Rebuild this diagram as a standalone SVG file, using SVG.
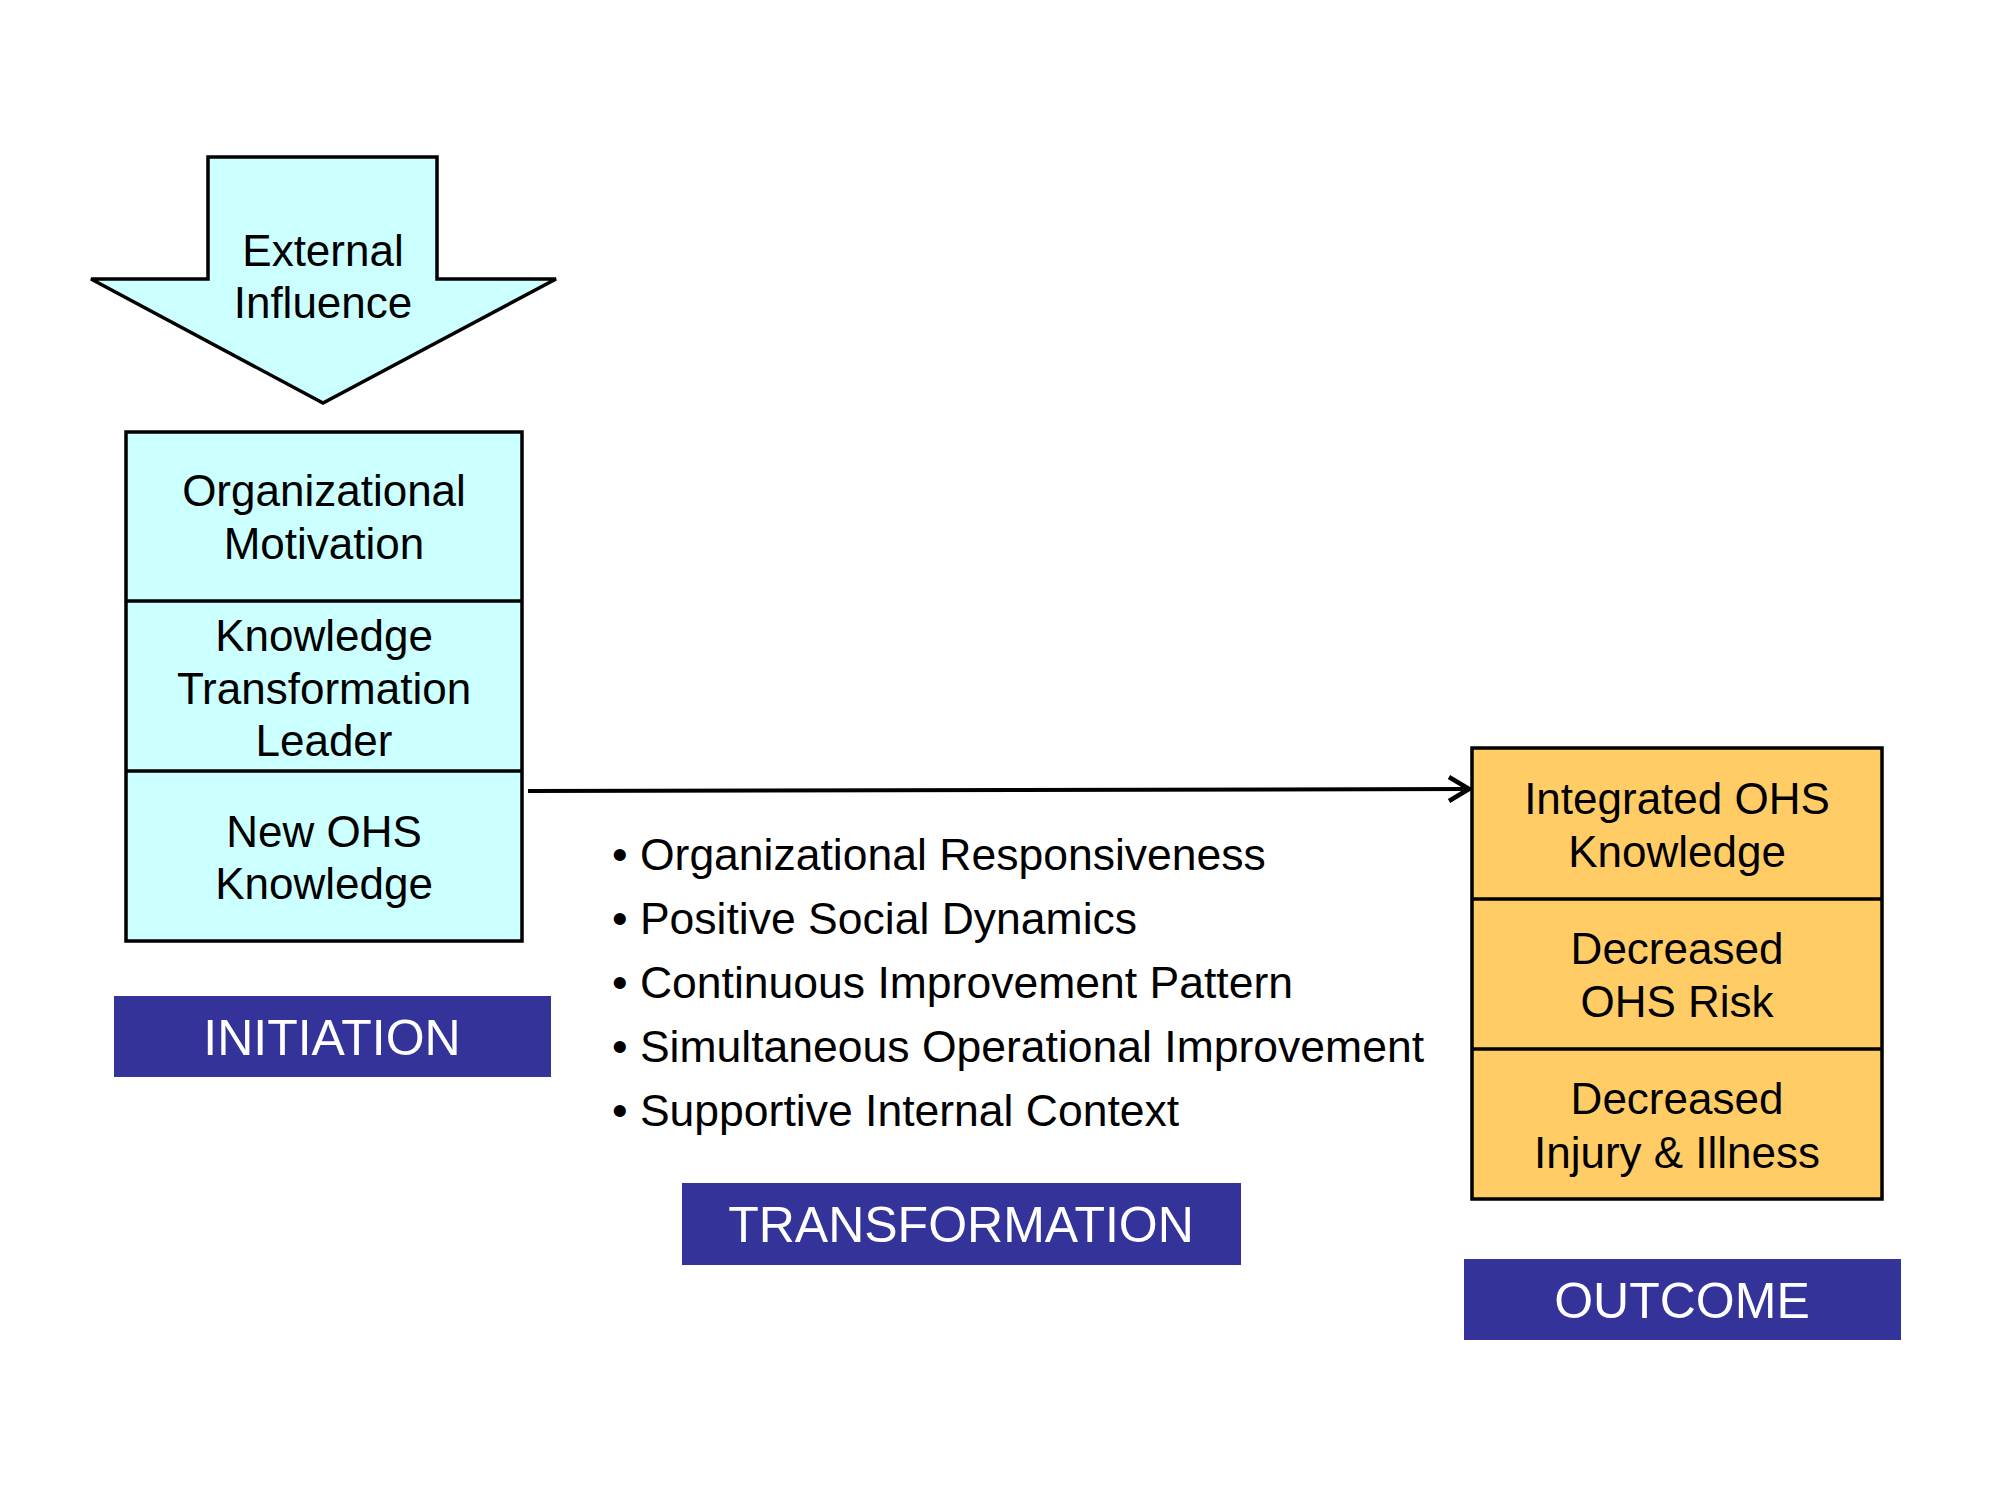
<svg xmlns="http://www.w3.org/2000/svg" width="2000" height="1500" viewBox="0 0 2000 1500">
  <defs>
    <style>
      text { font-family: "Liberation Sans", Arial, sans-serif; }
      .lbl { font-size: 44px; fill: #000; text-anchor: middle; }
      .bul { font-size: 44.5px; fill: #000; }
      .stage { font-size: 50px; fill: #fff; text-anchor: middle; }
      .cyan { fill: #CCFFFF; stroke: #000; stroke-width: 3.5; }
      .orange { fill: #FFCC66; stroke: #000; stroke-width: 3.5; }
      .div { stroke: #000; stroke-width: 3.5; fill: none; }
      .band { fill: #333399; }
    </style>
    <marker id="open" viewBox="0 0 24 28" refX="22" refY="14" markerWidth="24" markerHeight="28" markerUnits="userSpaceOnUse" orient="auto">
      <path d="M2,2 L22,14 L2,26" fill="none" stroke="#000" stroke-width="4.5"/>
    </marker>
  </defs>
  <rect width="2000" height="1500" fill="#fff"/>

  <g id="external-influence">
    <path class="cyan" d="M208,157 L437,157 L437,279 L556,279 L323,403 L91,279 L208,279 Z" stroke-linejoin="miter"/>
    <text class="lbl" x="323" y="266">External</text>
    <text class="lbl" x="323" y="318">Influence</text>
  </g>

  <g id="initiation-stack">
    <rect class="cyan" x="126" y="432" width="396" height="509"/>
    <line class="div" x1="126" y1="601" x2="522" y2="601"/>
    <line class="div" x1="126" y1="771" x2="522" y2="771"/>
    <text class="lbl" x="324" y="506">Organizational</text>
    <text class="lbl" x="324" y="559">Motivation</text>
    <text class="lbl" x="324" y="651">Knowledge</text>
    <text class="lbl" x="324" y="704">Transformation</text>
    <text class="lbl" x="324" y="756">Leader</text>
    <text class="lbl" x="324" y="847">New OHS</text>
    <text class="lbl" x="324" y="899">Knowledge</text>
  </g>

  <g id="initiation-label">
    <rect class="band" x="114" y="996" width="437" height="81"/>
    <text class="stage" x="332" y="1055">INITIATION</text>
  </g>

  <g id="transformation-list">
    <text class="bul" x="612" y="870">• Organizational Responsiveness</text>
    <text class="bul" x="612" y="934">• Positive Social Dynamics</text>
    <text class="bul" x="612" y="998">• Continuous Improvement Pattern</text>
    <text class="bul" x="612" y="1062">• Simultaneous Operational Improvement</text>
    <text class="bul" x="612" y="1126">• Supportive Internal Context</text>
  </g>

  <g id="transformation-label">
    <rect class="band" x="682" y="1183" width="559" height="82"/>
    <text class="stage" x="961" y="1242">TRANSFORMATION</text>
  </g>

  <g id="outcome-stack">
    <rect class="orange" x="1472" y="748" width="410" height="451"/>
    <line class="div" x1="1472" y1="899" x2="1882" y2="899"/>
    <line class="div" x1="1472" y1="1049" x2="1882" y2="1049"/>
    <text class="lbl" x="1677" y="814">Integrated OHS</text>
    <text class="lbl" x="1677" y="867">Knowledge</text>
    <text class="lbl" x="1677" y="964">Decreased</text>
    <text class="lbl" x="1677" y="1017">OHS Risk</text>
    <text class="lbl" x="1677" y="1114">Decreased</text>
    <text class="lbl" x="1677" y="1168">Injury &amp; Illness</text>
  </g>

  <g id="outcome-label">
    <rect class="band" x="1464" y="1259" width="437" height="81"/>
    <text class="stage" x="1682" y="1318">OUTCOME</text>
  </g>

  <g id="connectors">
    <line x1="528" y1="791" x2="1469" y2="789" stroke="#000" stroke-width="4" marker-end="url(#open)"/>
  </g>
</svg>
